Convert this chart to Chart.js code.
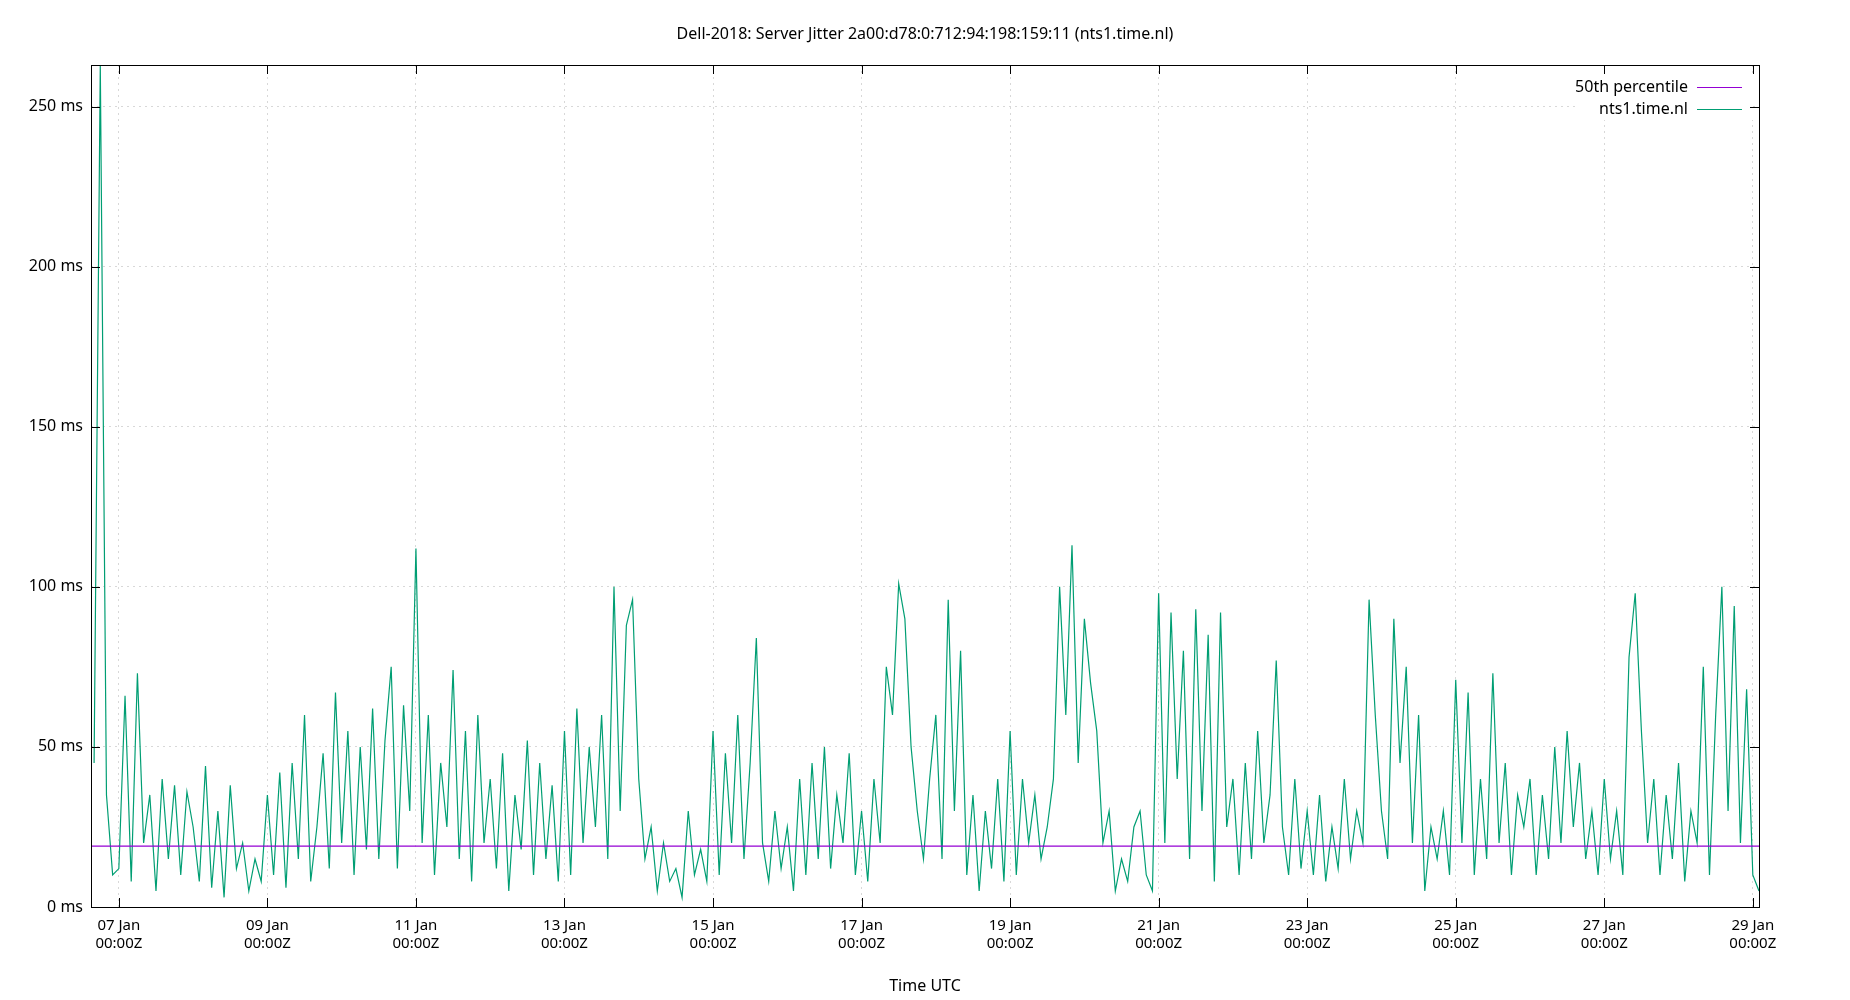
<!DOCTYPE html>
<html>
<head>
<meta charset="utf-8">
<script src="https://cdn.jsdelivr.net/npm/chart.js@4/dist/chart.umd.min.js"></script>
<style>
  body { margin: 0; background: #fff; }
  #wrap { width: 1850px; height: 1000px; }
</style>
</head>
<body>
<div id="wrap"><canvas id="jitter"></canvas></div>
<script>
// hours relative to 07 Jan 00:00Z, one sample every 2 hours
const START_HOUR = -8;
const STEP_HOURS = 2;
const jitterMs = [
    45, 263, 35, 10,
    12, 66, 8, 73, 20, 35, 5, 40, 15, 38, 10, 36,   // 07 Jan
    25, 8, 44, 6, 30, 3, 38, 12, 20, 5, 15, 8,      // 08 Jan
    35, 10, 42, 6, 45, 15, 60, 8, 25, 48, 12, 67,   // 09 Jan
    20, 55, 10, 50, 18, 62, 15, 52, 75, 12, 63, 30, // 10 Jan
    112, 20, 60, 10, 45, 25, 74, 15, 55, 8, 60, 20, // 11 Jan
    40, 12, 48, 5, 35, 18, 52, 10, 45, 15, 38, 8,   // 12 Jan
    55, 10, 62, 20, 50, 25, 60, 15, 100, 30, 88, 96,// 13 Jan
    40, 15, 25, 5, 20, 8, 12, 3, 30, 10, 18, 8,     // 14 Jan
    55, 10, 48, 20, 60, 15, 45, 84, 20, 8, 30, 12,  // 15 Jan
    25, 5, 40, 10, 45, 15, 50, 12, 35, 20, 48, 10,  // 16 Jan
    30, 8, 40, 20, 75, 60, 101, 90, 50, 30, 15, 40, // 17 Jan
    60, 15, 96, 30, 80, 10, 35, 5, 30, 12, 40, 8,   // 18 Jan
    55, 10, 40, 20, 35, 15, 25, 40, 100, 60, 113, 45, // 19 Jan
    90, 70, 55, 20, 30, 5, 15, 8, 25, 30, 10, 5,    // 20 Jan
    98, 20, 92, 40, 80, 15, 93, 30, 85, 8, 92, 25,  // 21 Jan
    40, 10, 45, 15, 55, 20, 35, 77, 25, 10, 40, 12, // 22 Jan
    30, 10, 35, 8, 25, 12, 40, 15, 30, 20, 96, 60,  // 23 Jan
    30, 15, 90, 45, 75, 20, 60, 5, 25, 15, 30, 10,  // 24 Jan
    71, 20, 67, 10, 40, 15, 73, 20, 45, 10, 35, 25, // 25 Jan
    40, 10, 35, 15, 50, 20, 55, 25, 45, 15, 30, 10, // 26 Jan
    40, 15, 30, 10, 78, 98, 55, 20, 40, 10, 35, 15, // 27 Jan
    45, 8, 30, 20, 75, 10, 60, 100, 30, 94, 20, 68, // 28 Jan
    10, 5
];
const medianMs = 19;
const dayLabels = ['07 Jan', '09 Jan', '11 Jan', '13 Jan', '15 Jan', '17 Jan',
                   '19 Jan', '21 Jan', '23 Jan', '25 Jan', '27 Jan', '29 Jan'];
const X_MIN = -9, X_MAX = 530;
const Y_MAX = 263;

const FONT = '"Noto Sans", "DejaVu Sans", sans-serif';
const points = jitterMs.map((v, i) => ({ x: START_HOUR + i * STEP_HOURS, y: v }));

// gnuplot-style frame, inward ticks, title and legend
const framePlugin = {
    id: 'frame',
    afterDraw(chart) {
        const { ctx, chartArea: a, scales: { x, y } } = chart;
        ctx.save();

        // legend first so the frame stays on top
        const entries = [['50th percentile', '#9400d3'], ['nts1.time.nl', '#009e73']];
        ctx.textAlign = 'right';
        ctx.textBaseline = 'middle';
        ctx.font = '16px ' + FONT;
        entries.forEach(([label, color], i) => {
            const ly = 87 + i * 22;
            ctx.fillStyle = '#fff';
            ctx.fillRect(1575, ly - 10, 178, 21);
            ctx.fillStyle = '#000';
            ctx.fillText(label, 1688, ly);
            ctx.strokeStyle = color;
            ctx.lineWidth = 1.2;
            ctx.beginPath();
            ctx.moveTo(1697, ly + 0.5); ctx.lineTo(1742, ly + 0.5);
            ctx.stroke();
        });

        ctx.strokeStyle = '#000';
        ctx.lineWidth = 1;
        ctx.strokeRect(a.left + 0.5, a.top + 0.5, a.right - a.left, a.bottom - a.top);
        ctx.beginPath();
        x.ticks.forEach(t => {
            const px = Math.round(x.getPixelForValue(t.value)) + 0.5;
            ctx.moveTo(px, a.bottom); ctx.lineTo(px, a.bottom - 9);
            ctx.moveTo(px, a.top); ctx.lineTo(px, a.top + 9);
        });
        y.ticks.forEach(t => {
            const py = Math.round(y.getPixelForValue(t.value)) + 0.5;
            ctx.moveTo(a.left, py); ctx.lineTo(a.left + 9, py);
            ctx.moveTo(a.right, py); ctx.lineTo(a.right - 9, py);
        });
        ctx.stroke();

        ctx.fillStyle = '#000';
        ctx.font = '16px ' + FONT;
        ctx.textAlign = 'center';
        ctx.fillText('Dell-2018: Server Jitter 2a00:d78:0:712:94:198:159:11 (nts1.time.nl)', (a.left + a.right) / 2, 34);
        ctx.restore();
    }
};

new Chart(document.getElementById('jitter').getContext('2d'), {
    type: 'line',
    data: {
        datasets: [{
            label: 'nts1.time.nl',
            data: points,
            borderColor: '#009e73',
            borderWidth: 1.2,
            pointRadius: 0,
            tension: 0,
            order: 2
        }, {
            label: '50th percentile',
            data: [{ x: X_MIN, y: medianMs }, { x: X_MAX, y: medianMs }],
            borderColor: '#9400d3',
            borderWidth: 1.2,
            pointRadius: 0,
            order: 1
        }]
    },
    options: {
        responsive: true,
        maintainAspectRatio: false,
        animation: false,
        layout: { padding: { top: 65, right: 91, left: 0, bottom: 0 } },
        plugins: { legend: { display: false }, tooltip: { enabled: false } },
        scales: {
            x: {
                type: 'linear',
                min: X_MIN, max: X_MAX,
                afterBuildTicks: s => { s.ticks = dayLabels.map((_, i) => ({ value: i * 48 })); },
                afterFit: s => { s.height = 93; },
                grid: { color: '#d8d8d8', drawTicks: false },
                border: { display: false, dash: [2, 4] },
                ticks: {
                    padding: 10,
                    color: '#000',
                    font: { family: FONT, size: 15 },
                    maxRotation: 0,
                    autoSkip: false,
                    callback: (v) => [dayLabels[Math.round(v / 48)], '00:00Z']
                },
                title: {
                    display: true, text: 'Time UTC', color: '#000',
                    font: { family: FONT, size: 16 }, padding: { top: 14 }
                }
            },
            y: {
                min: 0, max: Y_MAX,
                afterBuildTicks: s => { s.ticks = [0, 50, 100, 150, 200, 250].map(v => ({ value: v })); },
                afterFit: s => { s.width = 91; },
                grid: { color: '#d8d8d8', drawTicks: false },
                border: { display: false, dash: [2, 4] },
                ticks: {
                    padding: 8,
                    color: '#000',
                    font: { family: FONT, size: 16 },
                    callback: v => v + ' ms'
                }
            }
        }
    },
    plugins: [framePlugin]
});
</script>
</body>
</html>
